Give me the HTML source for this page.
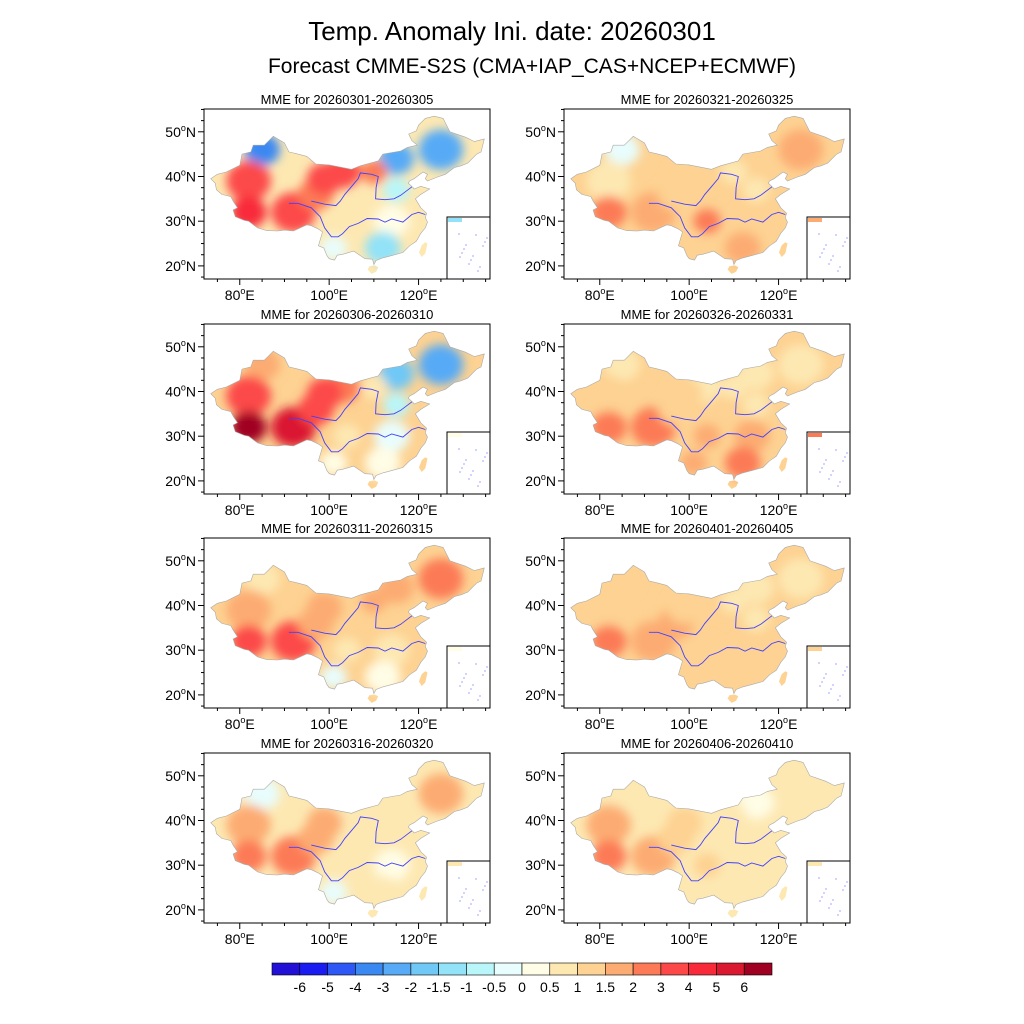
<!DOCTYPE html>
<html><head><meta charset="utf-8"><style>
body{margin:0;background:#fff}
svg{display:block;font-family:"Liberation Sans",sans-serif}
</style></head><body>
<svg id="s" width="1024" height="1024" viewBox="0 0 1024 1024">
<defs>
<filter id="blur" x="-20%" y="-20%" width="140%" height="140%"><feGaussianBlur stdDeviation="5"/></filter>
</defs>
<text x="512" y="40" font-size="26" text-anchor="middle">Temp. Anomaly Ini. date: 20260301</text>
<text x="532" y="73" font-size="21" text-anchor="middle">Forecast CMME-S2S (CMA+IAP_CAS+NCEP+ECMWF)</text>
<g id="panels"></g>
<g id="cbar"></g>
</svg>
<script>
const NS="http://www.w3.org/2000/svg";
const levels=[-6,-5,-4,-3,-2,-1.5,-1,-0.5,0,0.5,1,1.5,2,3,4,5,6];
const levelLabels=["-6","-5","-4","-3","-2","-1.5","-1","-0.5","0","0.5","1","1.5","2","3","4","5","6"];
const colors=["#2210d6","#1a1cf2","#2e58f6","#3a88f2","#56aaf6","#70c8f6","#92e2f8","#b8f6fa","#e8fdfd","#fffde6","#fde8b2","#fdd292","#fcac72","#fc7a56","#fc4848","#f82a3a","#da1830","#a00022"];
const regionNames=["XJN","TAR","TBW","TBE","QH","IMW","IME","NE","NC","SC","YZ","SCH","YN","HX","IMC"];
const regionLon=[85,82,82,92,97,103,115,125,115,104,114,112,101,99,110];
const regionLat=[46,39,32,32,36,41,44,46,37,30,30,24,24,39.5,41];
const regionRad=[4,5,4,5,4,4,4,5,3,3,4,4,3,4,3];
const panelTitles=["MME for 20260301-20260305","MME for 20260321-20260325","MME for 20260306-20260310","MME for 20260326-20260331","MME for 20260311-20260315","MME for 20260401-20260405","MME for 20260316-20260320","MME for 20260406-20260410"];
const p1=[-4,3.5,4.5,3,2,3,-2.5,-3,-1,0.5,0.3,-1.5,-0.5,3,2];
const p2=[-0.3,0.7,2,1.5,1.2,1,1,1.5,0.8,2,1.3,1.7,1.2,1,0.8];
const p3=[1.5,3,6,5,3,2,-2,-2.5,-1,0.5,-0.3,0.3,0.3,3,0.5];
const p4=[0.7,1.3,2,2,1.3,0.7,0.5,0.5,0.7,1.5,1.7,2,1.5,1.3,0.8];
const p5=[0.5,1.5,3.5,3,1.5,1.3,1.8,2.5,1.2,0.7,0.6,0.3,-0.3,1.5,1.5];
const p6=[1,1.3,2,1.7,1.5,1,0.8,0.8,0.7,1.2,1.3,1.3,1,1.3,0.8];
const p7=[-0.5,1.5,2.5,2,1.5,0.7,0.7,1.5,0.5,0.7,0.3,0.5,-0.5,1.5,0.7];
const p8=[0.7,1.5,2,1.7,1.3,0.5,0.3,0.5,0.5,1,0.5,0.7,0.7,1.3,0.7];
const panelData=[p1,p2,p3,p4,p5,p6,p7,p8];
const lonTicks=[80,100,120];
const latTicks=[20,30,40,50];
const china=[[73.5,39.5],[75,40.5],[77,41],[80,42.5],[80.5,45],[82.5,45.5],[83,47],[85.5,47],[87.5,49],[90,47.5],[91,45.5],[93,45],[95,44.5],[97,42.8],[100,42.6],[105,41.6],[107,42.4],[111,43.5],[112,45],[116,45.7],[117.5,46.5],[119.7,47],[118.5,48],[117.8,49.5],[119.5,50.2],[120,51.5],[121.5,53],[123.5,53.5],[125.5,53],[127,50],[130.5,48.8],[132.5,47.8],[134.7,48.4],[134,45.5],[133,45],[131,43],[129.5,42.4],[128,42],[126,40.5],[124,39.8],[122,39],[121.5,39.5],[122,40.5],[121,41],[119,39.5],[118,39],[117.7,38.5],[118.8,37.5],[119,37.2],[120.5,37.8],[122.5,37.2],[120.5,36],[119.3,35],[120.5,33],[121.8,31.8],[121.5,30.8],[122,29.8],[121.5,28.5],[120.5,27.3],[119.5,25.5],[118,24.5],[116.5,23],[114,22.3],[112,21.8],[110.5,21.2],[110,20.3],[109.7,21.5],[108,21.6],[106.7,22.5],[105.5,23.3],[103,22.6],[101.8,22.4],[101.2,21.3],[100,21.6],[99.5,22.3],[98.8,24],[97.6,24.5],[98.5,27.6],[97.5,28.3],[96,29],[95,29.2],[92,27.8],[90,28],[88.5,27.8],[86,27.9],[84,28.5],[82,30],[81,30.2],[79,31],[78.5,32.5],[79.5,33],[78.5,34.5],[78,35.5],[76,36],[74.8,37],[74.5,38.5]];
const hainan=[[108.6,19.2],[109.5,18.2],[110.5,18.7],[111,19.7],[110.2,20.1],[109,19.9]];
const taiwan=[[120.1,23],[120.7,22],[121.5,22.8],[122,25],[121.5,25.3],[120.7,24.6]];
const yellowRiver=[[96,34.5],[99,33.8],[101.5,33.5],[102.5,34.5],[103.5,36],[104.8,37.5],[106.5,39.5],[107,40.8],[109.5,40.5],[111,40],[110.5,37.5],[110.4,35],[112.5,34.8],[114.5,35],[116,35.8],[118.5,37.7]];
const yangtze=[[91,34],[93,34],[96,33],[98,31],[99,28.5],[100.5,26.5],[102,26.5],[103,27.2],[104.5,28.8],[106.5,29.5],[108.5,30.6],[111,30.5],[112.5,29.8],[114,30.5],[116.5,29.8],[118.5,31.5],[120,32],[121.5,31.5]];
function colorOf(v){let i=0;while(i<levels.length&&v>=levels[i])i++;return colors[i];}
function el(t,a,p){const e=document.createElementNS(NS,t);for(const k in a)e.setAttribute(k,a[k]);if(p)p.appendChild(e);return e;}
const W=286,H=170,LON0=72,LAT1=55.1,PXD=4.47,PXL=4.47;
const origins=[[204,109],[564,109],[204,324],[564,324],[204,538],[564,538],[204,753],[564,753]];
const panels=document.getElementById('panels');
panelData.forEach((vals,pi)=>{
  const [x0,y0]=origins[pi];
  const X=lon=>x0+(lon-LON0)*PXL, Y=lat=>y0+(LAT1-lat)*PXD;
  const pts=a=>a.map(p=>X(p[0]).toFixed(1)+","+Y(p[1]).toFixed(1)).join(" ");
  const g=el('g',{},panels);
  
  
  const t=el('text',{x:x0+W/2,y:y0-5,'font-size':13,'text-anchor':'middle'},g);t.textContent=panelTitles[pi];
  
  
  const cp=el('clipPath',{id:'cp'+pi},g);
  el('polygon',{points:pts(china)},cp);el('polygon',{points:pts(hainan)},cp);el('polygon',{points:pts(taiwan)},cp);
  const mean=vals.reduce((a,b)=>a+b,0)/vals.length;
  const fg=el('g',{'clip-path':'url(#cp'+pi+')'},g);
  el('rect',{x:x0,y:y0,width:W,height:H,fill:colorOf(mean)},fg);
  const bg=el('g',{filter:'url(#blur)'},fg);
  vals.forEach((v,i)=>{
    const c=el('ellipse',{cx:X(regionLon[i]),cy:Y(regionLat[i]),rx:regionRad[i]*PXL,ry:regionRad[i]*PXD*0.9,fill:colorOf(v)},bg);
    
    
  });
  el('polygon',{points:pts(china),fill:'none',stroke:'#aaa','stroke-width':0.6},g);
  el('polyline',{points:pts(yellowRiver),fill:'none',stroke:'#4040ff','stroke-width':0.9},g);
  el('polyline',{points:pts(yangtze),fill:'none',stroke:'#4040ff','stroke-width':0.9},g);
  const ins=el('rect',{x:x0+243,y:y0+108,width:W-243,height:H-108,fill:'#fff',stroke:'#000','stroke-width':1},g);
  
  
  el('rect',{x:x0+244,y:y0+109,width:14,height:4,fill:colorOf(vals[11])},g);
  for(let k=0;k<14;k++){el('circle',{cx:x0+255+(k*7)%30,cy:y0+125+(k*11)%40,r:0.6,fill:'#66f'},g);}
  const fr=el('rect',{x:x0,y:y0,width:W,height:H,fill:'none',stroke:'#000','stroke-width':1},g);
  
  
  for(let lon=75;lon<=135;lon+=5){const x=X(lon),L=lonTicks.includes(lon)?6:3;el('line',{x1:x,x2:x,y1:y0+H,y2:y0+H+L,stroke:'#000'},g);}
  for(let lat=17.5;lat<=55;lat+=2.5){const y=Y(lat),L=latTicks.includes(lat)?6:3;el('line',{x1:x0,x2:x0-L,y1:y,y2:y,stroke:'#000'},g);}
  lonTicks.forEach(lon=>{const t=el('text',{x:X(lon),y:y0+H+21,'font-size':14,'text-anchor':'middle'},g);t.innerHTML=lon+'<tspan font-size="9" dy="-6">o</tspan><tspan dy="6">E</tspan>';
    
    });
  latTicks.forEach(lat=>{const t=el('text',{x:x0-8,y:Y(lat)+5,'font-size':14,'text-anchor':'end'},g);t.innerHTML=lat+'<tspan font-size="9" dy="-6">o</tspan><tspan dy="6">N</tspan>';
    
    });
});
const cb=document.getElementById('cbar');
const cbx=272,cbw=500/colors.length;
colors.forEach((c,i)=>{const r=el('rect',{x:cbx+i*cbw,y:963,width:cbw,height:12,fill:c,stroke:'#000','stroke-width':0.6},cb);
  
  });
levelLabels.forEach((l,i)=>{const t=el('text',{x:cbx+(i+1)*cbw,y:992,'font-size':14,'text-anchor':'middle'},cb);t.textContent=l;
  
  });
</script>
</body></html>
